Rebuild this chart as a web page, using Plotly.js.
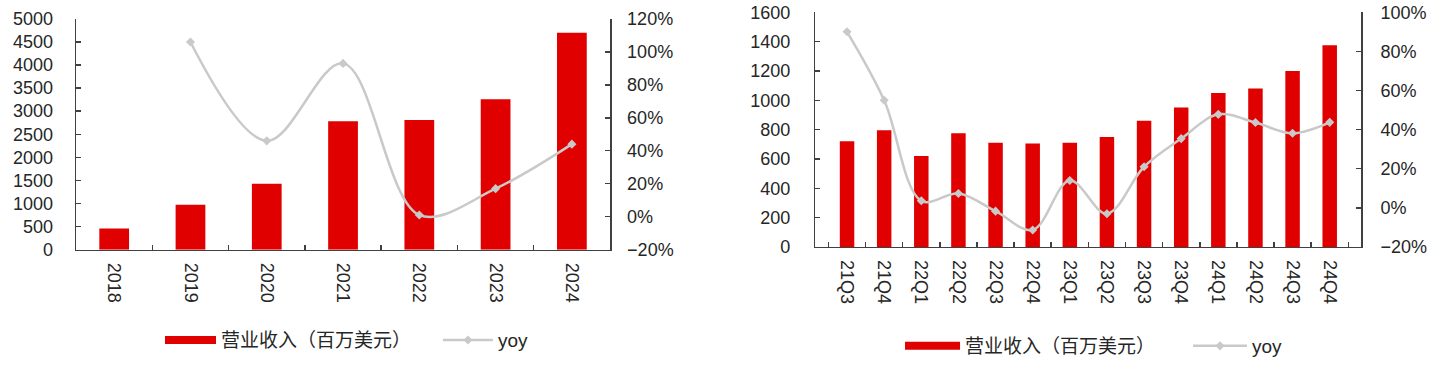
<!DOCTYPE html>
<html>
<head>
<meta charset="utf-8">
<script src="https://cdn.plot.ly/plotly-3.0.1.min.js"></script>
<style>html,body{margin:0;padding:0;background:#fff;}#chart{width:1435px;height:365px;}</style>
</head>
<body>
<div id="chart"></div>
<script>
// Annual data (left chart)
const yearCats = ['2018', '2019', '2020', '2021', '2022', '2023', '2024'];
const yearRevenue = [460, 975, 1430, 2780, 2810, 3260, 4700];
const yearYoy = [null, 106, 46, 93, 1, 17, 44];

// Quarterly data (right chart)
const quarterCats = ['21Q3', '21Q4', '22Q1', '22Q2', '22Q3', '22Q4', '23Q1', '23Q2', '23Q3', '23Q4', '24Q1', '24Q2', '24Q3', '24Q4'];
const quarterRevenue = [720, 795, 620, 775, 710, 705, 710, 750, 860, 950, 1050, 1080, 1200, 1375];
const quarterYoy = [90, 55, 3.6, 7.3, -1.7, -11.3, 14, -3, 21, 35.4, 47.8, 43.6, 38.1, 43.7];

const revenueName = '营业收入（百万美元）';
const yoyName = 'yoy';

const RED = '#E00000';
const GRAY = '#C9C9C9';
const AXIS = '#404040';
const TXT = '#262626';
const FONT = 'Liberation Sans, Arial, Noto Sans CJK SC, sans-serif';
const FS = 18;

function barTrace(x, y, xa, ya) {
  return {type: 'bar', x: x, y: y, xaxis: xa, yaxis: ya, name: revenueName, showlegend: false,
    marker: {color: RED, line: {width: 0}}};
}
// legend key for the bars, drawn as a wide red block (no data of its own)
function barKey(xa, ya, lg) {
  return {type: 'scatter', mode: 'lines', x: [null], y: [null], xaxis: xa, yaxis: ya, name: revenueName,
    legend: lg, line: {color: RED, width: 8}, hoverinfo: 'skip'};
}
function lineTrace(x, y, xa, ya, lg) {
  return {type: 'scatter', mode: 'lines+markers', x: x, y: y, xaxis: xa, yaxis: ya, name: yoyName, legend: lg,
    line: {color: GRAY, width: 2.5, shape: 'spline', smoothing: 1}, connectgaps: false,
    marker: {symbol: 'diamond', size: 7, color: GRAY}};
}

const data = [
  barTrace(yearCats, yearRevenue, 'x', 'y'),
  barKey('x', 'y', 'legend'),
  lineTrace(yearCats, yearYoy, 'x', 'y2', 'legend2'),
  barTrace(quarterCats, quarterRevenue, 'x2', 'y3'),
  barKey('x2', 'y3', 'legend3'),
  lineTrace(quarterCats, quarterYoy, 'x2', 'y4', 'legend4')
];

const tickFont = {family: FONT, size: FS, color: TXT};
function xAxis(domain, anchor) {
  return {domain: domain, anchor: anchor, type: 'category', showline: true, linecolor: AXIS, linewidth: 1.5,
    ticks: 'inside', tickson: 'boundaries', ticklen: 5, tickcolor: AXIS, tickwidth: 1.5, tickangle: 90,
    ticklabelstandoff: 8,
    tickfont: tickFont, showgrid: false, zeroline: false, fixedrange: true};
}
function yAxis(domain, anchor, range, dtick, side, overlay, suffix, standoff) {
  const a = {domain: domain, anchor: anchor, range: range, dtick: dtick, tick0: range[0], side: side,
    showline: true, linecolor: AXIS, linewidth: 1.5, ticks: 'inside', ticklen: 5, tickcolor: AXIS, tickwidth: 1.5,
    tickfont: tickFont, showgrid: false, zeroline: false, fixedrange: true, ticksuffix: suffix || '',
    ticklabelstandoff: standoff};
  if (overlay) a.overlaying = overlay;
  return a;
}
function legendAt(x, y, itemwidth) {
  return {orientation: 'h', x: x, y: y, xanchor: 'left', yanchor: 'middle',
    font: {family: FONT, size: 19, color: TXT}, bgcolor: 'rgba(0,0,0,0)', borderwidth: 0, itemwidth: itemwidth};
}

const yL = [0.3123, 0.948];
const yR = [0.3197, 0.9663];
const layout = {
  width: 1435, height: 365,
  margin: {l: 0, r: 0, t: 0, b: 0},
  paper_bgcolor: '#fff', plot_bgcolor: 'rgba(0,0,0,0)',
  font: {family: FONT, size: FS, color: TXT},
  bargap: 0.61,
  xaxis: xAxis([0.0530, 0.4251], 'y'),
  yaxis: yAxis(yL, 'x', [0, 5000], 500, 'left', null, '', 18),
  yaxis2: yAxis(yL, 'x', [-20, 120], 20, 'right', 'y', '%', 12),
  xaxis2: xAxis([0.5682, 0.9487], 'y3'),
  yaxis3: yAxis(yR, 'x2', [0, 1600], 200, 'left', null, '', 20),
  yaxis4: yAxis(yR, 'x2', [-20, 100], 20, 'right', 'y3', '%', 14),
  legend: legendAt(0.1115, 0.063, 51),
  legend2: legendAt(0.3052, 0.063, 50),
  legend3: legendAt(0.6272, 0.0466, 55),
  legend4: legendAt(0.8279, 0.0466, 54),
  showlegend: true
};

Plotly.newPlot('chart', data, layout, {displayModeBar: false, staticPlot: true});
</script>
</body>
</html>
